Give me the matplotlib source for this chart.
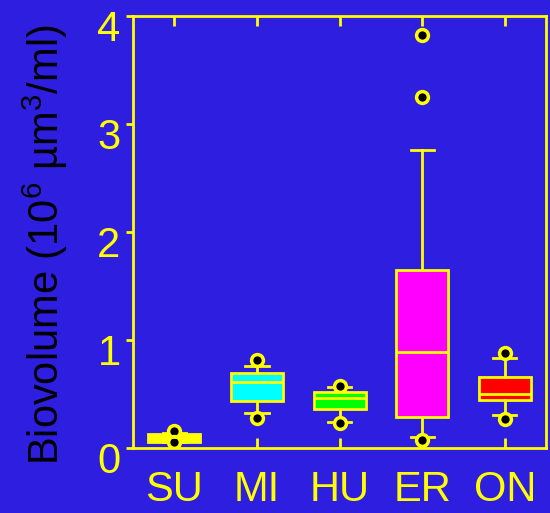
import matplotlib
matplotlib.use("Agg")
import matplotlib.pyplot as plt
import matplotlib.transforms as mtransforms

# ── Biovolume summary per lake (10^6 µm^3/ml) ─────────────────
lakes      = ["SU", "MI", "HU", "ER", "ON"]
q1         = [0.055, 0.435, 0.36, 0.29, 0.44]
medians    = [0.10, 0.61, 0.46, 0.89, 0.50]
q3         = [0.13, 0.69, 0.52, 1.65, 0.66]
whisk_lo   = [0.05, 0.32, 0.24, 0.10, 0.30]
whisk_hi   = [0.14, 0.76, 0.56, 2.76, 0.83]
outliers   = [[0.16, 0.05], [0.815, 0.28], [0.575, 0.23],
              [3.82, 3.25, 0.07], [0.88, 0.27]]
box_colors = ["#ffff00", "#00ffff", "#00ff00", "#ff00ff", "#ff0000"]

BG     = "#2d1ee0"
YELLOW = "#ffff00"

plt.rcParams["font.family"] = ["Liberation Sans", "DejaVu Sans"]
plt.rcParams["mathtext.fontset"] = "custom"
plt.rcParams["mathtext.rm"] = "Liberation Sans"

fig = plt.figure(figsize=(5.5, 5.13), dpi=100, facecolor=BG)
ax = fig.add_axes([0.242, 0.127, 0.751, 0.842], facecolor=BG)

stats = []
for i, name in enumerate(lakes):
    stats.append({
        "label": name,
        "q1": q1[i], "med": medians[i], "q3": q3[i],
        "whislo": whisk_lo[i], "whishi": whisk_hi[i],
        "fliers": outliers[i],
    })

bp = ax.bxp(stats, positions=range(1, len(lakes) + 1), widths=0.63,
            capwidths=0.28, patch_artist=True, showfliers=True,
            boxprops=dict(edgecolor=YELLOW, linewidth=2),
            medianprops=dict(color=YELLOW, linewidth=2),
            whiskerprops=dict(color=YELLOW, linewidth=2),
            capprops=dict(color=YELLOW, linewidth=2),
            flierprops=dict(marker="o", markerfacecolor="black",
                            markeredgecolor=YELLOW, markeredgewidth=2.5,
                            markersize=8.5))
for patch, c in zip(bp["boxes"], box_colors):
    patch.set_facecolor(c)

ax.set_xlim(0.5, 5.5)
ax.set_ylim(0, 4)
ax.set_yticks([0, 1, 2, 3, 4])
ax.set_xticks(range(1, len(lakes) + 1))
ax.set_xticklabels(lakes)

for sp in ax.spines.values():
    sp.set_color(YELLOW)
    sp.set_linewidth(2)

ax.tick_params(axis="y", direction="out", length=5, width=2,
               colors=YELLOW, labelsize=30, pad=4)
ax.tick_params(axis="x", direction="in", length=7, width=2,
               colors=YELLOW, labelsize=30, top=True, pad=16)

# y tick numbers sit a little below their ticks
shift = mtransforms.ScaledTranslation(0, -7 / 72, fig.dpi_scale_trans)
for lbl in ax.get_yticklabels():
    lbl.set_transform(lbl.get_transform() + shift)

ax.set_ylabel("Biovolume (10$^{6}$ \u00b5m$^{3}$/ml)", color="black",
              fontsize=30, va="center")
ax.yaxis.set_label_coords(-0.213, 0.47)

fig.savefig("out.png", dpi=100, facecolor=BG)
